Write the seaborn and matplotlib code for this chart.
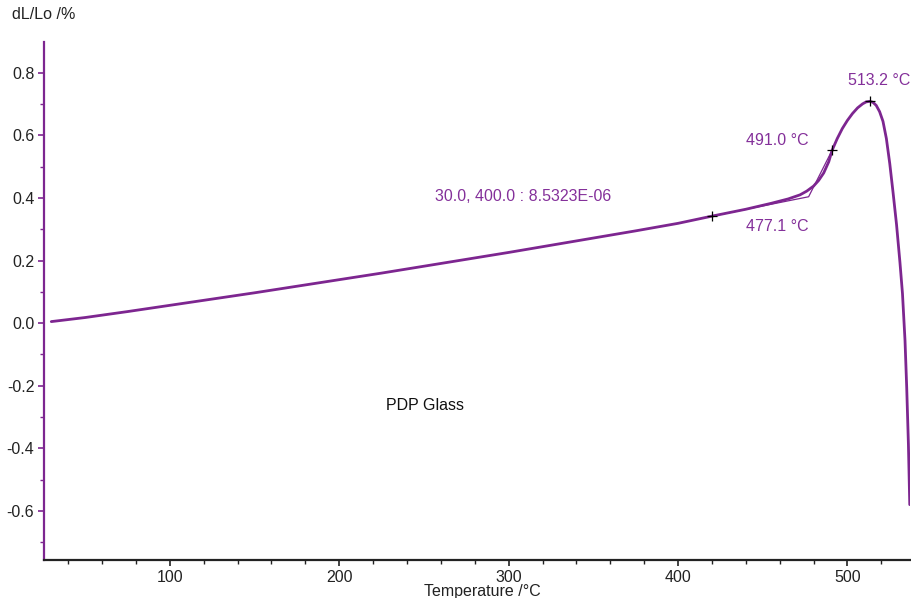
import matplotlib
matplotlib.use("Agg")
import matplotlib.pyplot as plt
from matplotlib.ticker import MultipleLocator
import seaborn as sns

# --- Data ---
temperature = [30, 50, 75, 100, 125, 150, 175, 200, 225, 250, 275, 300, 325, 350,
               375, 400, 420, 440, 455, 465, 472, 476, 480, 483, 486, 489, 491,
               494, 497, 500, 503, 506, 509, 511, 513.2, 515, 517, 519, 521,
               523, 525, 527, 529, 531, 532.5, 534, 535, 536, 536.8]
dl_lo = [0.005, 0.018, 0.037, 0.057, 0.077, 0.097, 0.118, 0.139, 0.160, 0.182,
         0.204, 0.226, 0.249, 0.272, 0.295, 0.319, 0.342, 0.364, 0.383, 0.397,
         0.410, 0.422, 0.438, 0.456, 0.480, 0.516, 0.553, 0.590, 0.622, 0.648,
         0.670, 0.688, 0.701, 0.707, 0.709, 0.706, 0.696, 0.676, 0.645,
         0.590, 0.510, 0.415, 0.315, 0.195, 0.095, -0.055, -0.205, -0.385, -0.580]

# onset construction (tangents) and marked points
tangent_t = [420, 477.1, 491.0]
tangent_y = [0.342, 0.404, 0.553]
marker_t = [420, 491.0, 513.2]
marker_y = [0.342, 0.553, 0.709]

PURPLE = "#7d2690"
TEXT_PURPLE = "#84309a"
FS = 11.5

sns.set_theme(style="white")
plt.rcParams['font.family'] = ['Liberation Sans', 'DejaVu Sans']

fig = plt.figure(figsize=(9.11, 5.98), dpi=100)
ax = fig.add_axes([0.0483, 0.0635, 0.9507, 0.8665])

sns.lineplot(x=tangent_t, y=tangent_y, ax=ax, color=PURPLE, linewidth=0.9,
             sort=False, estimator=None)
sns.lineplot(x=temperature, y=dl_lo, ax=ax, color=PURPLE, linewidth=2.0,
             sort=False, estimator=None)
ax.plot(marker_t, marker_y, linestyle='none', marker='+', color='black',
        markersize=7, markeredgewidth=0.9, zorder=5)

ax.set_xlim(25.7, 537)
ax.set_ylim(-0.757, 0.899)

# axes style
for side in ['top', 'right']:
    ax.spines[side].set_visible(False)
ax.spines['left'].set_color(PURPLE)
ax.spines['left'].set_linewidth(1.6)
ax.spines['bottom'].set_color('#222222')
ax.spines['bottom'].set_linewidth(1.6)

ax.xaxis.set_major_locator(MultipleLocator(100))
ax.xaxis.set_minor_locator(MultipleLocator(20))
ax.yaxis.set_major_locator(MultipleLocator(0.2))
ax.yaxis.set_minor_locator(MultipleLocator(0.1))
ax.tick_params(axis='both', which='both', direction='out', labelsize=FS,
               labelcolor='#222222', bottom=True, left=True)
ax.tick_params(axis='x', which='major', length=4, width=1.2, color='#222222', pad=3)
ax.tick_params(axis='x', which='minor', length=3, width=1.0, color='#222222')
ax.tick_params(axis='y', which='major', length=4, width=1.2, color=PURPLE, pad=3)
ax.tick_params(axis='y', which='minor', length=3, width=1.0, color=PURPLE)
ax.yaxis.set_major_formatter(plt.FuncFormatter(lambda v, p: f"{v:.1f}"))
ax.set_xlabel("")
ax.set_ylabel("")

# annotations
ax.text(308.4, 0.4035, "30.0, 400.0 : 8.5323E-06", color=TEXT_PURPLE,
        fontsize=FS, ha='center', va='center')
ax.text(458.4, 0.585, "491.0 °C", color=TEXT_PURPLE, fontsize=FS,
        ha='center', va='center')
ax.text(458.4, 0.308, "477.1 °C", color=TEXT_PURPLE, fontsize=FS,
        ha='center', va='center')
ax.text(518.6, 0.776, "513.2 °C", color=TEXT_PURPLE, fontsize=FS,
        ha='center', va='center')
ax.text(250.6, -0.262, "PDP Glass", color='#111111', fontsize=FS,
        ha='center', va='center')

fig.text(0.013, 0.975, "dL/Lo /%", fontsize=FS, color='#222222',
         ha='left', va='center')
fig.text(482 / 911, 0.0117, "Temperature /°C", fontsize=FS, color='#222222',
         ha='center', va='center')

fig.savefig("out.png", dpi=100)
